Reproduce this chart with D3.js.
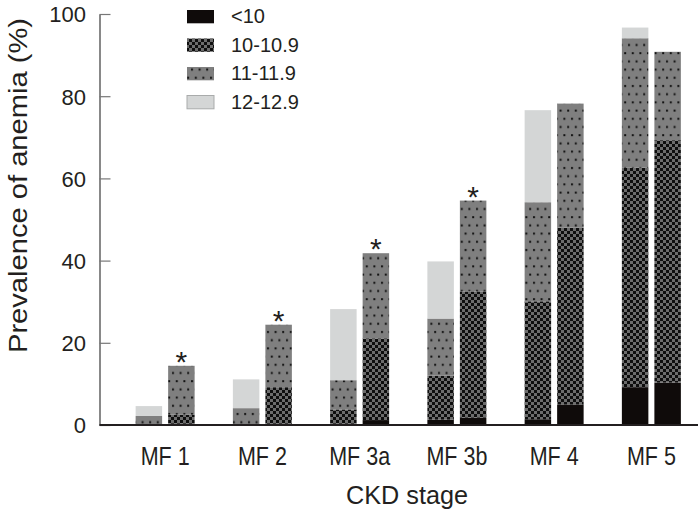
<!DOCTYPE html>
<html><head><meta charset="utf-8">
<script src="https://cdn.jsdelivr.net/npm/d3@7/dist/d3.min.js"></script>
<style>
body{margin:0;background:#fff;}
svg{display:block;}
text{font-family:"Liberation Sans",Arial,sans-serif;fill:#231f20;}
</style></head>
<body>
<svg id="chart" width="700" height="510"></svg>
<script>
const categories = ["MF 1","MF 2","MF 3a","MF 3b","MF 4","MF 5"];
const levels = ["<10","10-10.9","11-11.9","12-12.9"];
const yTicks = [0,20,40,60,80,100];
// first bar of each pair
const barA_lt10 = [0,0,0.3,1.3,1.4,9.2];
const barA_10   = [0,0,3.5,10.7,28.7,53.4];
const barA_11   = [2.2,4.1,7.1,13.9,24.1,31.5];
const barA_12   = [2.4,7.0,17.3,13.9,22.4,2.6];
// second bar of each pair
const barB_lt10 = [0.3,0.3,1.2,1.8,5.0,10.3];
const barB_10   = [2.2,8.9,19.9,30.7,43.0,59.0];
const barB_11   = [11.9,15.2,20.7,22.1,30.2,21.5];
const barB_12   = [0,0,0,0,0,0];
const significant = [false,true,false,true,false,true,false,true,false,false,false,false]; // per bar (A,B per category)

const svg = d3.select("#chart");
const defs = svg.append("defs");

// patterns
const pCheck = defs.append("pattern").attr("id","pCheck").attr("patternUnits","userSpaceOnUse")
  .attr("width",6).attr("height",6);
pCheck.append("rect").attr("width",6).attr("height",6).attr("fill","#6c6c6c");
pCheck.append("rect").attr("x",0).attr("y",0).attr("width",3).attr("height",3).attr("fill","#0e0e0e");
pCheck.append("rect").attr("x",3).attr("y",3).attr("width",3).attr("height",3).attr("fill","#0e0e0e");

const pDot = defs.append("pattern").attr("id","pDot").attr("patternUnits","userSpaceOnUse")
  .attr("width",7.6).attr("height",16.4);
pDot.append("rect").attr("width",7.6).attr("height",16.4).attr("fill","#7f7f7f");
pDot.append("rect").attr("x",1).attr("y",3).attr("width",2).attr("height",2).attr("fill","#111");
pDot.append("rect").attr("x",4.8).attr("y",11.2).attr("width",2).attr("height",2).attr("fill","#111");

const fills = {"<10":"#0f0b0a","10-10.9":"url(#pCheck)","11-11.9":"url(#pDot)","12-12.9":"#d4d6d6"};

// build rows
const rows = [];
categories.forEach((c,i)=>{
  rows.push({cat:c, bar:0, idx:i, "<10":barA_lt10[i], "10-10.9":barA_10[i], "11-11.9":barA_11[i], "12-12.9":barA_12[i]});
  rows.push({cat:c, bar:1, idx:i, "<10":barB_lt10[i], "10-10.9":barB_10[i], "11-11.9":barB_11[i], "12-12.9":barB_12[i]});
});

const x0 = d3.scaleBand().domain(categories).range([116.5,700]).paddingInner(0).paddingOuter(0);
const pairW = 59;
const x1 = d3.scaleBand().domain([0,1]).range([(x0.bandwidth()-pairW)/2,(x0.bandwidth()+pairW)/2]).paddingInner(0.185).paddingOuter(0);
const y = d3.scaleLinear().domain([0,100]).range([425,14]);

const stack = d3.stack().keys(levels);
const series = stack(rows);

svg.append("g").selectAll("g").data(series).join("g")
  .attr("fill", d=>fills[d.key])
  .selectAll("rect").data(d=>d).join("rect")
  .attr("x", d=>x0(d.data.cat)+x1(d.data.bar))
  .attr("width", x1.bandwidth())
  .attr("y", d=>y(d[1]))
  .attr("height", d=>Math.max(0,y(d[0])-y(d[1])));

// asterisks
const totals = rows.map(r=>levels.reduce((s,k)=>s+r[k],0));
svg.append("g").selectAll("text").data(rows.filter((r,i)=>significant[i]))
  .join("text")
  .attr("x", d=>x0(d.cat)+x1(d.bar)+x1.bandwidth()/2)
  .attr("y", d=>y(levels.reduce((s,k)=>s+d[k],0))+6)
  .attr("text-anchor","middle")
  .style("font-size","30px")
  .text("*");

// y axis
const yAxis = d3.axisLeft(y).tickValues(yTicks).tickSizeInner(-11).tickSizeOuter(0).tickPadding(13.5);
const gy = svg.append("g").attr("transform","translate(99.5,0)").call(yAxis);
gy.select(".domain").attr("stroke","#3a3a3a").attr("stroke-width",1.2);
gy.selectAll(".tick line").attr("stroke","#777").attr("stroke-width",1.2);
gy.selectAll(".tick text").style("font-size","22px").attr("fill","#231f20").attr("dy","0.36em");

// x axis baseline
svg.append("line").attr("x1",99.5).attr("x2",698).attr("y1",y(0)).attr("y2",y(0))
  .attr("stroke","#231f20").attr("stroke-width",2);

// x labels
const xAxis = d3.axisBottom(x0).tickSize(0).tickPadding(0);
const gx = svg.append("g").attr("transform",`translate(0,${y(0)})`).call(xAxis);
gx.select(".domain").remove();
gx.selectAll(".tick text").attr("y",40).attr("dy",null).style("font-size","25px").attr("fill","#231f20")
  .each(function(){ const w=this.getComputedTextLength(); d3.select(this).attr("textLength",w*0.86).attr("lengthAdjust","spacingAndGlyphs"); });

// axis titles
svg.append("text").attr("x",407).attr("y",504).attr("text-anchor","middle").style("font-size","25px")
  .text("CKD stage")
  .each(function(){ const w=this.getComputedTextLength(); d3.select(this).attr("textLength",122).attr("lengthAdjust","spacingAndGlyphs"); });
svg.append("text").attr("transform","translate(27,185.5) rotate(-90)").attr("text-anchor","middle")
  .style("font-size","26px").attr("textLength",335).attr("lengthAdjust","spacingAndGlyphs")
  .text("Prevalence of anemia (%)");

// legend
const lg = svg.append("g");
const legY = d3.scaleBand().domain(levels).range([10,124]);
levels.forEach(k=>{
  lg.append("rect").attr("x",187).attr("y",legY(k)).attr("width",27).attr("height",13.3)
    .attr("fill",fills[k]).attr("stroke", k==="12-12.9" ? "#a9abab" : "none").attr("stroke-width",1);
  lg.append("text").attr("x",231).attr("y",legY(k)+13).style("font-size","20px").text(k);
});
</script>
</body></html>
